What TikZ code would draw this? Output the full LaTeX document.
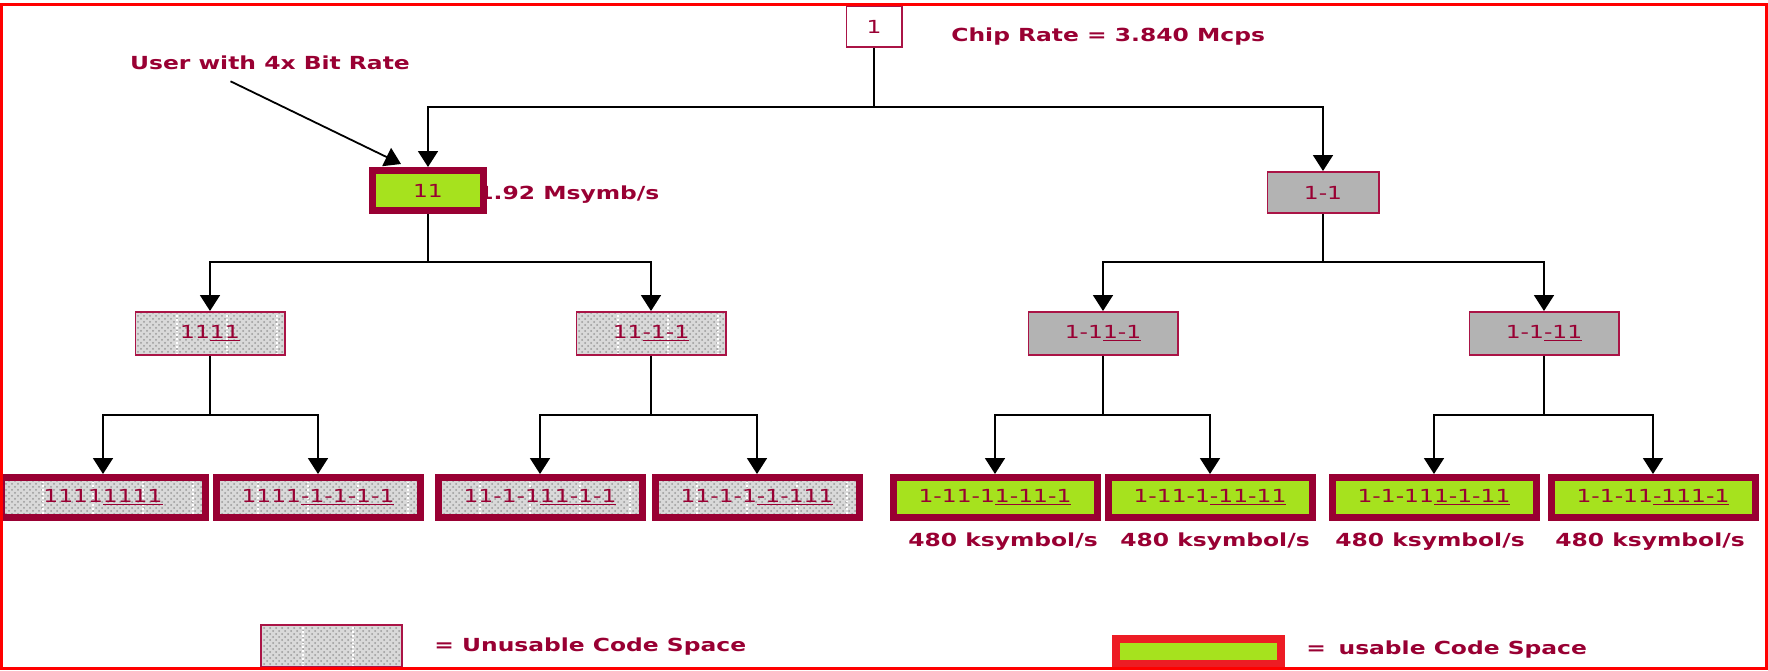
\documentclass[tikz,border=0pt]{standalone}
\usepackage{fontspec}
\setmainfont{DejaVu Sans}[FakeStretch=1.3]
\usetikzlibrary{arrows.meta,patterns,positioning}
\definecolor{codered}{RGB}{153,0,51}
\definecolor{edgered}{RGB}{170,20,70}
\definecolor{usegreen}{RGB}{166,226,30}
\definecolor{spentgray}{RGB}{179,179,179}
\definecolor{framered}{RGB}{255,0,0}
\definecolor{keyred}{RGB}{237,28,36}
\tikzset{
  code/.style={text=codered, font=\fontsize{9}{10}\selectfont, inner sep=0pt},
  note/.style={text=codered, font=\bfseries\fontsize{9}{10}\selectfont, inner sep=0pt},
  thinbox/.style={code, draw=edgered, line width=0.8pt},
  thickbox/.style={code, draw=codered, line width=3.5pt, minimum width=102pt, minimum height=20pt},
  hatch/.style={preaction={fill=gray!30}, pattern=crosshatch dots, pattern color=gray!80,
    path picture={\foreach \k in {0,...,8}
      \draw[white, densely dotted, line width=0.9pt]
        ([xshift=21pt+\k*25pt]path picture bounding box.south west) --
        ([xshift=21pt+\k*25pt]path picture bounding box.north west);}},
  usable/.style={thickbox, fill=usegreen},
  blocked/.style={thickbox, hatch},
  spent/.style={thinbox, fill=spentgray},
  midbox/.style={minimum width=74.7pt, minimum height=21.7pt},
  link/.style={draw=black, line width=0.9pt},
  arrow/.style={link, -{Triangle[width=10pt,length=8pt]}}
}
\begin{document}
\begin{tikzpicture}[x=0.5pt,y=-0.5pt]
\useasboundingbox (0,0) rectangle (1768,670);
% spreading factor 1
\node[thinbox, fill=white, minimum width=27.7pt, minimum height=20.7pt] (sf1) at (874,26.5) {1};
\node[note, anchor=west] (chip) at (951,37) {Chip Rate = 3.840 Mcps};
% spreading factor 2
\node[note, anchor=west] (rate2) at (477,195) {1.92 Msymb/s};
\node[usable, minimum width=55.5pt] (sf2a) at (428,190.5) {11};
\node[spent, minimum width=55.7pt, minimum height=20.7pt] (sf2b) at (1323,192.5) {1-1};
\node[note] (user) at (270,63) {User with 4x Bit Rate};
% spreading factor 4
\node[thinbox, hatch, midbox] (sf4a) at (210,333.5) {11\underline{11}};
\node[thinbox, hatch, midbox] (sf4b) at (651,333.5) {11\underline{-1-1}};
\node[spent, midbox] (sf4c) at (1103,333.5) {1-1\underline{1-1}};
\node[spent, midbox] (sf4d) at (1544,333.5) {1-1\underline{-11}};
% spreading factor 8
\node[blocked] (sf8a) at (103,497.5) {1111\underline{1111}};
\node[blocked] (sf8b) at (318,497.5) {1111\underline{-1-1-1-1}};
\node[blocked] (sf8c) at (540,497.5) {11-1-1\underline{11-1-1}};
\node[blocked] (sf8d) at (757,497.5) {11-1-1\underline{-1-111}};
\node[usable] (sf8e) at (995,497.5) {1-11-1\underline{1-11-1}};
\node[usable] (sf8f) at (1210,497.5) {1-11-1\underline{-11-11}};
\node[usable] (sf8g) at (1434,497.5) {1-1-11\underline{1-1-11}};
\node[usable] (sf8h) at (1653,497.5) {1-1-11\underline{-111-1}};
\node[note] (rate8e) at (1003,542) {480 ksymbol/s};
\node[note] (rate8f) at (1215,542) {480 ksymbol/s};
\node[note] (rate8g) at (1430,542) {480 ksymbol/s};
\node[note] (rate8h) at (1650,542) {480 ksymbol/s};
% tree
\foreach \p/\c/\h in {sf1/sf2a/59, sf1/sf2b/59, sf2a/sf4a/48, sf2a/sf4b/48, sf2b/sf4c/48, sf2b/sf4d/48,
    sf4a/sf8a/59, sf4a/sf8b/59, sf4b/sf8c/59, sf4b/sf8d/59, sf4c/sf8e/59, sf4c/sf8f/59, sf4d/sf8g/59, sf4d/sf8h/59}
  \draw[arrow] (\p.south) -- ++(0,\h) -| (\c.north);
\draw[arrow, shorten <=12.5pt] ([xshift=-31pt]user.south) -- ([xshift=16pt,yshift=1.5pt]sf2a.north west);
% legend
\node[thinbox, hatch, minimum width=70.7pt, minimum height=21.2pt] (keyspent) at (331.5,646) {};
\node[note, anchor=west] (keyspenttext) at (434,647) {= Unusable Code Space};
\node[draw=keyred, line width=4pt, fill=usegreen, inner sep=0pt, minimum width=82.5pt, minimum height=12.5pt] (keyuse) at (1198.5,651.5) {};
\node[note, anchor=west] (keyusetext) at (1306,650) {=\hspace{0.7em}usable Code Space};
% frame
\draw[framered, line width=1.5pt] (1.5,4.5) rectangle (1766,668.5);
\end{tikzpicture}
\end{document}
